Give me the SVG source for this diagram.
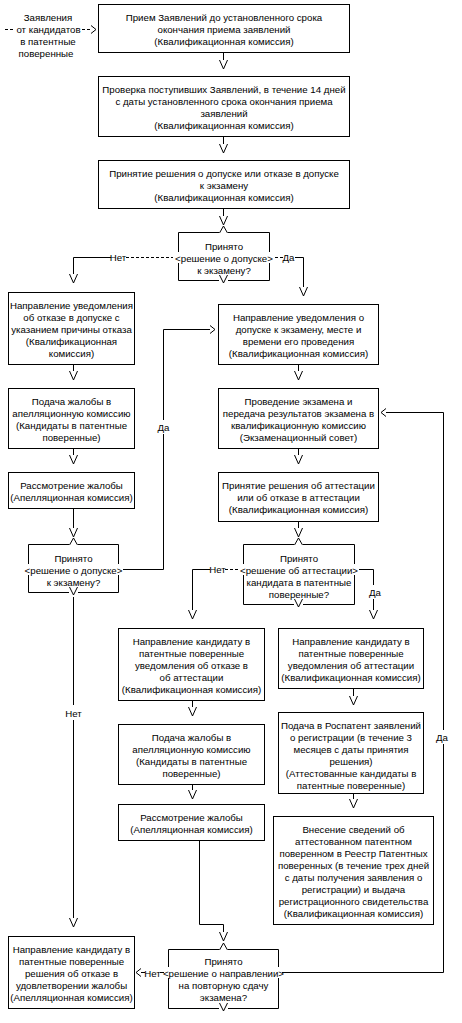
<svg xmlns="http://www.w3.org/2000/svg" width="462" height="1023" viewBox="0 0 462 1023">
<style>
  .bx { fill: #fff; stroke: #000; stroke-width: 1; }
  .ln { fill: none; stroke: #000; stroke-width: 1; }
  .ds { fill: none; stroke: #000; stroke-width: 1; stroke-dasharray: 3 2; }
  text { font-family: "Liberation Sans", Arial, sans-serif; font-size: 9.7px; fill: #000; text-anchor: middle; }
</style>
<defs>
  <path id="vdn" class="ln" d="M-4,0 L0,9 L4,0"/>
  <path id="vup" class="ln" d="M-4,0 L0,-7 L4,0"/>
  <path id="gt" class="ln" d="M-5,-4 L0,0 L-5,4"/>
  <path id="lt" class="ln" d="M5,-4 L0,0 L5,4"/>
</defs>
<rect width="462" height="1023" fill="#fff"/>

<g id="source">
  <text x="48" y="21">Заявления</text>
  <text x="48.5" y="33">от кандидатов</text>
  <text x="48" y="45">в патентные</text>
  <text x="46" y="57">поверенные</text>
</g>

<g id="connectors">
  <path class="ds" d="M5,29.5 H15"/>
  <path class="ds" d="M82,29.5 H92"/>
  <use href="#gt" x="96" y="29.5"/>

  <path class="ln" d="M223.5,52.5 V60"/><use href="#vdn" x="223.5" y="60"/>
  <path class="ln" d="M223.5,136.5 V144"/><use href="#vdn" x="223.5" y="144"/>
  <path class="ln" d="M223.5,208.5 V216"/><use href="#vdn" x="223.5" y="216"/>

  <path class="ln" d="M111,257.5 H73.5 V274"/><use href="#vdn" x="73.5" y="274"/>
  <text x="118" y="261">Нет</text>
  <path class="ds" d="M126,257.5 H173"/>
  <path class="ds" d="M275,257.5 H283"/>
  <text x="288.5" y="261">Да</text>
  <path class="ln" d="M295,257.5 H303.5 V287"/><use href="#vdn" x="303.5" y="287"/>

  <path class="ln" d="M73.5,364.5 V371"/><use href="#vdn" x="73.5" y="371"/>
  <path class="ln" d="M73.5,448.5 V455"/><use href="#vdn" x="73.5" y="455"/>
  <path class="ln" d="M73.5,508.5 V528"/><use href="#vdn" x="73.5" y="528"/>

  <path class="ln" d="M123,569.5 H163.5 V434 M163.5,420 V329.5 H210"/>
  <use href="#gt" x="215" y="329.5"/>
  <text x="163.5" y="430.5">Да</text>

  <path class="ln" d="M73.5,597 V705 M73.5,720 V918"/>
  <text x="73.5" y="716.5">Нет</text>
  <use href="#vdn" x="73.5" y="918"/>

  <path class="ln" d="M298.5,364.5 V371"/><use href="#vdn" x="298.5" y="371"/>
  <path class="ln" d="M298.5,448.5 V455"/><use href="#vdn" x="298.5" y="455"/>
  <path class="ln" d="M298.5,521.5 V528"/><use href="#vdn" x="298.5" y="528"/>

  <path class="ln" d="M210,569.5 H192.5 V610"/><use href="#vdn" x="192.5" y="610"/>
  <text x="217.5" y="573">Нет</text>
  <path class="ds" d="M225,569.5 H238"/>
  <path class="ln" d="M359,569.5 H373.5 V585 M373.5,599 V610"/>
  <text x="375" y="595.5">Да</text>
  <use href="#vdn" x="373.5" y="610"/>

  <path class="ln" d="M192.5,700.5 V707"/><use href="#vdn" x="192.5" y="707"/>
  <path class="ln" d="M192.5,784.5 V790"/><use href="#vdn" x="192.5" y="790"/>
  <path class="ln" d="M199.5,840.5 V924.5 H223.5 V932"/><use href="#vdn" x="223.5" y="932"/>

  <path class="ln" d="M353.5,688.5 V696"/><use href="#vdn" x="353.5" y="696"/>
  <path class="ln" d="M353.5,793.5 V799"/><use href="#vdn" x="353.5" y="799"/>

  <path class="ln" d="M282,972.5 H443.5 V744 M443.5,730 V412.5 H386"/>
  <use href="#lt" x="381" y="412.5"/>
  <text x="442" y="740.5">Да</text>

  <use href="#lt" x="136" y="972.5"/>
  <path class="ln" d="M141,972.5 H145 M160,972.5 H164"/>
  <text x="152.5" y="976.5">Нет</text>
</g>

<g id="n1">
  <rect class="bx" x="98.5" y="4.5" width="251" height="48"/>
  <text x="224" y="21">Прием Заявлений до установленного срока</text>
  <text x="224" y="33">окончания приема заявлений</text>
  <text x="224" y="45">(Квалификационная комиссия)</text>
</g>

<g id="n2">
  <rect class="bx" x="98.5" y="76.5" width="251" height="60"/>
  <text x="224" y="93">Проверка поступивших Заявлений, в течение 14 дней</text>
  <text x="224" y="105">с даты установленного срока окончания приема</text>
  <text x="224" y="117">заявлений</text>
  <text x="224" y="129">(Квалификационная комиссия)</text>
</g>

<g id="n3">
  <rect class="bx" x="98.5" y="160.5" width="251" height="48"/>
  <text x="224" y="177">Принятие решения о допуске или отказе в допуске</text>
  <text x="224" y="189">к экзамену</text>
  <text x="224" y="201">(Квалификационная комиссия)</text>
</g>

<g id="d1">
  <path class="ln" d="M219,232.5 H178.5 V252 M178.5,263 V280.5 H219 M228,280.5 H269.5 V263 M269.5,252 V232.5 H228"/>
  <use href="#vup" x="223.5" y="233"/>
  <path class="ln" d="M219.5,275 L223.5,283 L227.5,275"/>
  <text x="224" y="249.5">Принято</text>
  <text x="224" y="261.5">&lt;решение о допуске&gt;</text>
  <text x="224" y="273.5">к экзамену?</text>
</g>

<g id="l1">
  <rect class="bx" x="8.5" y="292.5" width="126" height="72"/>
  <text x="71.5" y="309">Направление уведомления</text>
  <text x="71.5" y="321">об отказе в допуске с</text>
  <text x="71.5" y="333">указанием причины отказа</text>
  <text x="71.5" y="345">(Квалификационная</text>
  <text x="71.5" y="357">комиссия)</text>
</g>

<g id="l2">
  <rect class="bx" x="8.5" y="388.5" width="126" height="60"/>
  <text x="71.5" y="405">Подача жалобы в</text>
  <text x="71.5" y="417">апелляционную комиссию</text>
  <text x="71.5" y="429">(Кандидаты в патентные</text>
  <text x="71.5" y="441">поверенные)</text>
</g>

<g id="l3">
  <rect class="bx" x="8.5" y="472.5" width="126" height="36"/>
  <text x="71.5" y="489">Рассмотрение жалобы</text>
  <text x="71.5" y="501">(Апелляционная комиссия)</text>
</g>

<g id="d2">
  <path class="ln" d="M69,544.5 H28.5 V564 M28.5,575 V592.5 H69 M78,592.5 H118.5 V575 M118.5,564 V544.5 H78"/>
  <use href="#vup" x="73.5" y="545"/>
  <path class="ln" d="M69.5,587 L73.5,595 L77.5,587"/>
  <text x="73.5" y="561.5">Принято</text>
  <text x="73.5" y="573.5">&lt;решение о допуске&gt;</text>
  <text x="73.5" y="585.5">к экзамену?</text>
</g>

<g id="l4">
  <rect class="bx" x="8.5" y="936.5" width="126" height="72"/>
  <text x="71.5" y="953">Направление кандидату в</text>
  <text x="71.5" y="965">патентные поверенные</text>
  <text x="71.5" y="977">решения об отказе в</text>
  <text x="71.5" y="989">удовлетворении жалобы</text>
  <text x="71.5" y="1001">(Апелляционная комиссия)</text>
</g>

<g id="r1">
  <rect class="bx" x="218.5" y="304.5" width="160" height="60"/>
  <text x="298.5" y="321">Направление уведомления о</text>
  <text x="298.5" y="333">допуске к экзамену, месте и</text>
  <text x="298.5" y="345">времени его проведения</text>
  <text x="298.5" y="357">(Квалификационная комиссия)</text>
</g>

<g id="r2">
  <rect class="bx" x="218.5" y="388.5" width="160" height="60"/>
  <text x="298.5" y="405">Проведение экзамена и</text>
  <text x="298.5" y="417">передача результатов экзамена в</text>
  <text x="298.5" y="429">квалификационную комиссию</text>
  <text x="298.5" y="441">(Экзаменационный совет)</text>
</g>

<g id="r3">
  <rect class="bx" x="218.5" y="472.5" width="160" height="49"/>
  <text x="298.5" y="489">Принятие решения об аттестации</text>
  <text x="298.5" y="501">или об отказе в аттестации</text>
  <text x="298.5" y="513">(Квалификационная комиссия)</text>
</g>

<g id="d4">
  <path class="ln" d="M294,544.5 H243.5 V564 M243.5,575 V604.5 H294 M303,604.5 H354.5 V575 M354.5,564 V544.5 H303"/>
  <use href="#vup" x="298.5" y="545"/>
  <path class="ln" d="M294.5,599 L298.5,607 L302.5,599"/>
  <text x="299" y="561.5">Принято</text>
  <text x="299" y="573.5">&lt;решение об аттестации&gt;</text>
  <text x="299" y="585.5">кандидата в патентные</text>
  <text x="299" y="597.5">поверенные?</text>
</g>

<g id="m1">
  <rect class="bx" x="118.5" y="628.5" width="146" height="72"/>
  <text x="191.5" y="645">Направление кандидату в</text>
  <text x="191.5" y="657">патентные поверенные</text>
  <text x="191.5" y="669">уведомления об отказе в</text>
  <text x="191.5" y="681">об аттестации</text>
  <text x="191.5" y="693">(Квалификационная комиссия)</text>
</g>

<g id="m2">
  <rect class="bx" x="118.5" y="724.5" width="146" height="60"/>
  <text x="191.5" y="741">Подача жалобы в</text>
  <text x="191.5" y="753">апелляционную комиссию</text>
  <text x="191.5" y="765">(Кандидаты в патентные</text>
  <text x="191.5" y="777">поверенные)</text>
</g>

<g id="m3">
  <rect class="bx" x="118.5" y="804.5" width="146" height="36"/>
  <text x="191.5" y="821">Рассмотрение жалобы</text>
  <text x="191.5" y="833">(Апелляционная комиссия)</text>
</g>

<g id="d3">
  <path class="ln" d="M219,949.5 H168.5 V967 M168.5,978 V1008.5 H219 M228,1008.5 H278.5 V978 M278.5,967 V949.5 H228"/>
  <use href="#vup" x="223.5" y="950"/>
  <path class="ln" d="M219.5,1003 L223.5,1011 L227.5,1003"/>
  <text x="223.5" y="965">Принято</text>
  <text x="223.5" y="977">&lt;решение о направлении&gt;</text>
  <text x="223.5" y="989">на повторную сдачу</text>
  <text x="223.5" y="1001">экзамена?</text>
</g>

<g id="r4">
  <rect class="bx" x="278.5" y="628.5" width="145" height="60"/>
  <text x="351" y="645">Направление кандидату в</text>
  <text x="351" y="657">патентные поверенные</text>
  <text x="351" y="669">уведомления об аттестации</text>
  <text x="351" y="681">(Квалификационная комиссия)</text>
</g>

<g id="r5">
  <rect class="bx" x="278.5" y="712.5" width="145" height="81"/>
  <text x="351" y="729">Подача в Роспатент заявлений</text>
  <text x="351" y="741">о регистрации (в течение 3</text>
  <text x="351" y="753">месяцев с даты принятия</text>
  <text x="351" y="765">решения)</text>
  <text x="351" y="777">(Аттестованные кандидаты в</text>
  <text x="351" y="789">патентные поверенные)</text>
</g>

<g id="r6">
  <rect class="bx" x="273.5" y="816.5" width="160" height="108"/>
  <text x="353.5" y="833">Внесение сведений об</text>
  <text x="353.5" y="845">аттестованном патентном</text>
  <text x="353.5" y="857">поверенном в Реестр Патентных</text>
  <text x="353.5" y="869">поверенных (в течение трех дней</text>
  <text x="353.5" y="881">с даты получения заявления о</text>
  <text x="353.5" y="893">регистрации) и выдача</text>
  <text x="353.5" y="905">регистрационного свидетельства</text>
  <text x="353.5" y="917">(Квалификационная комиссия)</text>
</g>
</svg>
